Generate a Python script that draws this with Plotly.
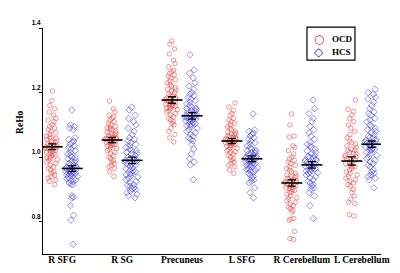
import plotly.graph_objects as go

regions = ["R SFG", "R SG", "Precuneus", "L SFG", "R Cerebellum", "L Cerebellum"]

ocd_r_sfg = [1.205, 1.175, 1.16, 1.15, 1.14, 1.13, 1.12, 1.115, 1.11, 1.10, 1.095, 1.09, 1.085, 1.08, 1.075, 1.07, 1.065, 1.06, 1.058, 1.055, 1.05, 1.048, 1.045, 1.04, 1.038, 1.035, 1.032, 1.03, 1.028, 1.025, 1.022, 1.02, 1.018, 1.015, 1.012, 1.01, 1.005, 1.0, 0.998, 0.995, 0.99, 0.985, 0.98, 0.975, 0.97, 0.965, 0.96, 0.955, 0.95, 0.945, 0.94, 0.935, 0.93, 0.925, 0.915, 1.042, 1.027, 1.008, 1.062, 0.992]
hcs_r_sfg = [1.146, 1.10, 1.095, 1.09, 1.085, 1.06, 1.055, 1.05, 1.045, 1.04, 1.035, 1.03, 1.025, 1.02, 1.015, 1.01, 1.005, 1.0, 0.998, 0.995, 0.99, 0.987, 0.984, 0.98, 0.977, 0.974, 0.97, 0.968, 0.965, 0.962, 0.96, 0.958, 0.955, 0.952, 0.95, 0.948, 0.945, 0.942, 0.94, 0.937, 0.934, 0.93, 0.927, 0.924, 0.92, 0.917, 0.915, 0.963, 0.957, 0.953, 0.972, 0.947, 0.88, 0.876, 0.873, 0.85, 0.82, 0.805, 0.73]
ocd_r_sg = [1.174, 1.15, 1.14, 1.13, 1.125, 1.12, 1.115, 1.11, 1.105, 1.1, 1.095, 1.09, 1.087, 1.084, 1.08, 1.077, 1.074, 1.07, 1.067, 1.064, 1.06, 1.058, 1.056, 1.054, 1.052, 1.05, 1.048, 1.046, 1.044, 1.042, 1.04, 1.037, 1.034, 1.03, 1.027, 1.024, 1.02, 1.015, 1.01, 1.005, 1.0, 0.995, 0.99, 0.985, 0.98, 0.975, 0.97, 0.965, 0.955, 0.94, 1.062, 1.072, 1.049, 1.057, 1.035, 1.092]
hcs_r_sg = [1.155, 1.146, 1.13, 1.12, 1.11, 1.1, 1.09, 1.08, 1.07, 1.06, 1.055, 1.05, 1.045, 1.04, 1.035, 1.03, 1.025, 1.02, 1.015, 1.01, 1.005, 1.0, 0.997, 0.994, 0.99, 0.987, 0.984, 0.98, 0.976, 0.972, 0.968, 0.964, 0.96, 0.955, 0.95, 0.945, 0.94, 0.935, 0.93, 0.925, 0.92, 0.915, 0.91, 0.905, 0.9, 0.895, 0.89, 0.885, 0.88, 0.874, 1.012, 0.992, 0.978, 1.022, 0.958, 0.948, 0.938, 0.912, 0.902]
ocd_precuneus = [1.36, 1.35, 1.335, 1.32, 1.30, 1.29, 1.28, 1.27, 1.265, 1.26, 1.255, 1.25, 1.245, 1.24, 1.235, 1.23, 1.225, 1.22, 1.215, 1.21, 1.205, 1.2, 1.195, 1.19, 1.185, 1.18, 1.178, 1.175, 1.172, 1.17, 1.167, 1.164, 1.16, 1.157, 1.154, 1.15, 1.147, 1.144, 1.14, 1.135, 1.13, 1.125, 1.12, 1.115, 1.11, 1.105, 1.1, 1.09, 1.08, 1.07, 1.06, 1.047, 1.165, 1.158, 1.162, 1.152, 1.182, 1.19, 1.208]
hcs_precuneus = [1.317, 1.27, 1.26, 1.245, 1.23, 1.22, 1.21, 1.2, 1.195, 1.19, 1.185, 1.18, 1.175, 1.17, 1.165, 1.16, 1.155, 1.15, 1.147, 1.144, 1.14, 1.137, 1.134, 1.13, 1.127, 1.124, 1.12, 1.117, 1.114, 1.11, 1.107, 1.104, 1.1, 1.097, 1.094, 1.09, 1.085, 1.08, 1.075, 1.07, 1.065, 1.06, 1.055, 1.05, 1.04, 1.025, 1.01, 0.995, 0.985, 0.976, 0.93, 1.132, 1.122, 1.118, 1.142, 1.112, 1.102, 1.152]
ocd_l_sfg = [1.168, 1.155, 1.145, 1.135, 1.13, 1.12, 1.115, 1.11, 1.105, 1.1, 1.095, 1.09, 1.085, 1.08, 1.077, 1.074, 1.07, 1.067, 1.064, 1.06, 1.057, 1.054, 1.052, 1.05, 1.048, 1.046, 1.044, 1.042, 1.04, 1.037, 1.034, 1.03, 1.027, 1.024, 1.02, 1.017, 1.014, 1.01, 1.005, 1.0, 0.995, 0.99, 0.985, 0.98, 0.975, 0.97, 0.96, 0.95, 1.058, 1.051, 1.043, 1.062, 1.036, 1.072]
hcs_l_sfg = [1.134, 1.085, 1.08, 1.075, 1.07, 1.065, 1.06, 1.055, 1.05, 1.045, 1.04, 1.035, 1.03, 1.025, 1.02, 1.017, 1.014, 1.01, 1.007, 1.004, 1.0, 0.998, 0.996, 0.994, 0.992, 0.99, 0.988, 0.985, 0.982, 0.98, 0.977, 0.974, 0.97, 0.967, 0.964, 0.96, 0.957, 0.954, 0.95, 0.945, 0.94, 0.935, 0.93, 0.925, 0.92, 0.905, 0.89, 0.874, 1.002, 0.993, 0.986, 1.012, 0.978, 1.022, 0.962]
ocd_r_cereb = [1.134, 1.1, 1.065, 1.062, 1.035, 1.03, 1.02, 1.01, 1.0, 0.995, 0.99, 0.985, 0.98, 0.975, 0.97, 0.965, 0.96, 0.955, 0.95, 0.945, 0.94, 0.937, 0.934, 0.93, 0.927, 0.924, 0.92, 0.917, 0.914, 0.91, 0.907, 0.904, 0.9, 0.897, 0.894, 0.89, 0.885, 0.88, 0.875, 0.87, 0.865, 0.86, 0.855, 0.85, 0.845, 0.84, 0.835, 0.83, 0.81, 0.808, 0.805, 0.77, 0.745, 0.748, 0.922, 0.912, 0.902, 0.932, 0.942]
hcs_r_cereb = [1.177, 1.15, 1.135, 1.12, 1.11, 1.095, 1.085, 1.075, 1.065, 1.055, 1.045, 1.04, 1.035, 1.03, 1.025, 1.02, 1.015, 1.01, 1.005, 1.0, 0.997, 0.994, 0.99, 0.987, 0.984, 0.98, 0.977, 0.974, 0.97, 0.967, 0.964, 0.96, 0.957, 0.954, 0.95, 0.945, 0.94, 0.935, 0.93, 0.925, 0.92, 0.915, 0.91, 0.905, 0.9, 0.89, 0.88, 0.85, 0.81, 0.982, 0.972, 0.962, 0.992, 0.952, 1.002]
ocd_l_cereb = [1.177, 1.148, 1.142, 1.13, 1.12, 1.11, 1.1, 1.09, 1.08, 1.07, 1.06, 1.05, 1.045, 1.04, 1.035, 1.03, 1.025, 1.02, 1.015, 1.01, 1.005, 1.0, 0.995, 0.99, 0.985, 0.98, 0.975, 0.97, 0.965, 0.96, 0.955, 0.95, 0.945, 0.94, 0.935, 0.93, 0.925, 0.92, 0.915, 0.91, 0.9, 0.89, 0.88, 0.87, 0.86, 0.856, 0.822, 0.818, 1.002, 0.992, 0.982, 0.972, 1.012, 1.022]
hcs_l_cereb = [1.21, 1.2, 1.195, 1.185, 1.18, 1.17, 1.16, 1.15, 1.14, 1.135, 1.13, 1.12, 1.115, 1.11, 1.1, 1.095, 1.09, 1.085, 1.08, 1.075, 1.07, 1.065, 1.06, 1.055, 1.05, 1.047, 1.044, 1.04, 1.037, 1.034, 1.03, 1.027, 1.024, 1.02, 1.015, 1.01, 1.005, 1.0, 0.995, 0.99, 0.985, 0.98, 0.975, 0.97, 0.96, 0.955, 0.95, 0.945, 0.94, 0.935, 0.93, 0.905, 1.052, 1.042, 1.032, 1.062, 1.022]

ocd_values = [ocd_r_sfg, ocd_r_sg, ocd_precuneus, ocd_l_sfg, ocd_r_cereb, ocd_l_cereb]
hcs_values = [hcs_r_sfg, hcs_r_sg, hcs_precuneus, hcs_l_sfg, hcs_r_cereb, hcs_l_cereb]

ocd_mean = [1.032, 1.053, 1.177, 1.050, 0.920, 0.988]
ocd_sem = [0.009, 0.008, 0.010, 0.008, 0.010, 0.013]
hcs_mean = [0.965, 0.990, 1.128, 0.995, 0.976, 1.040]
hcs_sem = [0.009, 0.010, 0.010, 0.009, 0.010, 0.010]

ytick_vals = [0.8, 1.0, 1.2, 1.4]
ytick_text = ["0.8", "1.0", "1.2", "1.4"]
group_names = ["OCD", "HCS"]

RED = "rgb(232,60,60)"
BLUE = "rgb(50,50,225)"
OFF = 0.167
serif = "Liberation Serif, Times New Roman, serif"

fig = go.Figure()

for i, vals in enumerate(ocd_values):
    fig.add_trace(go.Box(
        x=[i - OFF] * len(vals), y=vals, boxpoints="all", jitter=0.85, pointpos=0,
        width=0.3, line=dict(width=0, color="rgba(0,0,0,0)"), fillcolor="rgba(0,0,0,0)",
        marker=dict(symbol="circle-open", size=4.5, color=RED, line=dict(width=0.7, color=RED), opacity=0.75),
        showlegend=False, hoveron="points", name=group_names[0]))
for i, vals in enumerate(hcs_values):
    fig.add_trace(go.Box(
        x=[i + OFF] * len(vals), y=vals, boxpoints="all", jitter=0.85, pointpos=0,
        width=0.3, line=dict(width=0, color="rgba(0,0,0,0)"), fillcolor="rgba(0,0,0,0)",
        marker=dict(symbol="diamond-open", size=5, color=BLUE, line=dict(width=0.7, color=BLUE), opacity=0.75),
        showlegend=False, hoveron="points", name=group_names[1]))

for means, sems, off in [(ocd_mean, ocd_sem, -OFF), (hcs_mean, hcs_sem, OFF)]:
    fig.add_trace(go.Scatter(
        x=[i + off for i in range(len(regions))], y=means, mode="markers",
        marker=dict(symbol="line-ew", size=15, line=dict(width=1.6, color="black")),
        error_y=dict(type="data", array=sems, visible=True, color="black", thickness=1.3, width=4),
        showlegend=False))

# legend box drawn by hand (compact, like the original)
fig.add_shape(type="rect", xref="paper", yref="paper", x0=0.781, x1=0.923, y0=0.858, y1=1.004,
              line=dict(color="black", width=1.2), fillcolor="white", layer="above")
leg_items = [(group_names[0], "○", "rgb(225,40,40)", 0.952), (group_names[1], "◇", "rgb(40,40,220)", 0.896)]
for name, glyph, col, yy in leg_items:
    fig.add_annotation(xref="paper", yref="paper", x=0.816, y=yy, text=glyph, showarrow=False,
                       xanchor="center", yanchor="middle",
                       font=dict(family="DejaVu Sans", size=12, color=col))
    fig.add_annotation(xref="paper", yref="paper", x=0.848, y=yy, text=name, showarrow=False,
                       xanchor="left", yanchor="middle",
                       font=dict(family=serif, size=9, color="black", weight="bold"))
fig.add_annotation(xref="paper", yref="paper", x=-0.068, y=0.58, text="ReHo", showarrow=False,
                   xanchor="center", yanchor="middle",
                   textangle=-90, font=dict(family=serif, size=9.5, color="black", weight="bold"))

fig.update_layout(
    width=400, height=273,
    margin=dict(l=35, r=27, t=20, b=27),
    plot_bgcolor="white", paper_bgcolor="white",
    xaxis=dict(range=[-0.32, 5.32], tickmode="array", tickvals=list(range(len(regions))),
               ticktext=regions, showgrid=False, zeroline=False, showline=True,
               linecolor="black", linewidth=1, ticks="", ticklabelstandoff=-3,
               tickfont=dict(family=serif, size=9.5, color="black", weight="bold")),
    yaxis=dict(range=[0.7, 1.4], tickmode="array", tickvals=ytick_vals, ticktext=ytick_text,
               showgrid=False, zeroline=False, showline=True, linecolor="black", linewidth=1,
               ticks="outside", ticklen=3, tickcolor="black", ticklabelposition="outside top",
               tickfont=dict(family="Liberation Sans, Arial, sans-serif", size=6.5, color="black", weight="bold")),
    showlegend=False,
)

fig.write_html("out.html")
